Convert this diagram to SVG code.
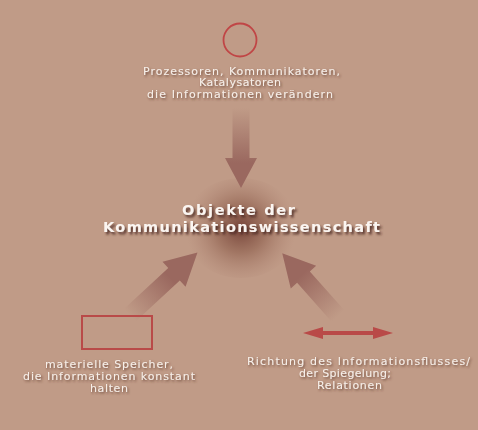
<svg xmlns="http://www.w3.org/2000/svg" width="478" height="430" viewBox="0 0 478 430">
<defs>
<style>
.t{font-family:"DejaVu Sans","Liberation Sans",sans-serif;font-size:11px;fill:#f7efe9;text-anchor:middle;filter:url(#sh)}
.tb{font-family:"DejaVu Sans","Liberation Sans",sans-serif;font-size:14.5px;font-weight:bold;fill:#fbf5f1;text-anchor:middle;filter:url(#sh2)}
.arr{fill:url(#ag)}
</style>
<filter id="sh" x="-10%" y="-50%" width="120%" height="200%">
<feDropShadow dx="1.2" dy="1.5" stdDeviation="0.8" flood-color="#5a3428" flood-opacity="0.8"/>
</filter>
<filter id="sh2" x="-10%" y="-50%" width="120%" height="200%">
<feDropShadow dx="2" dy="2.5" stdDeviation="1.2" flood-color="#4a2820" flood-opacity="0.85"/>
</filter>
<linearGradient id="ag" gradientUnits="userSpaceOnUse" x1="0" y1="0" x2="55" y2="0">
<stop offset="0" stop-color="#9a685f" stop-opacity="0"/>
<stop offset="1" stop-color="#9a685f" stop-opacity="1"/>
</linearGradient>
<radialGradient id="glow" cx="241" cy="228" r="55" gradientUnits="userSpaceOnUse">
<stop offset="0" stop-color="#6e3a31" stop-opacity="0.9"/>
<stop offset="0.45" stop-color="#82503f" stop-opacity="0.5"/>
<stop offset="1" stop-color="#a7796a" stop-opacity="0"/>
</radialGradient>
<marker id="dh" viewBox="0 0 20 12" refX="0" refY="6" markerWidth="20" markerHeight="12" markerUnits="userSpaceOnUse" orient="auto-start-reverse">
<path d="M0,0 L20,6 L0,12 Z" fill="#b94a48"/>
</marker>
</defs>
<rect width="478" height="430" fill="#c09b87"/>
<ellipse cx="241" cy="228" rx="58" ry="50" fill="url(#glow)"/>

<g id="connectors">
<polygon class="arr" transform="translate(241 108) rotate(90)" points="0,-8.5 50,-8.5 50,-16 80,0 50,16 50,8.5 0,8.5"/>
<polygon class="arr" transform="translate(130 315) rotate(-42.8)" points="0,-8.5 60,-8.5 60,-17 92,0 60,17 60,8.5 0,8.5"/>
<polygon class="arr" transform="translate(338 316) rotate(-131.6)" points="0,-8.5 52,-8.5 52,-17 84,0 52,17 52,8.5 0,8.5"/>
</g>

<g id="processors">
<circle cx="240" cy="40" r="16.5" fill="none" stroke="#c04646" stroke-width="1.8"/>
<text class="t" x="241.5" y="74.5" textLength="197" lengthAdjust="spacing">Prozessoren, Kommunikatoren,</text>
<text class="t" x="240" y="86" textLength="82" lengthAdjust="spacing">Katalysatoren</text>
<text class="t" x="240" y="97.5" textLength="186" lengthAdjust="spacing">die Informationen verändern</text>
</g>

<g id="objects">
<text class="tb" x="238.5" y="215" textLength="113" lengthAdjust="spacing">Objekte der</text>
<text class="tb" x="241.5" y="232" textLength="277" lengthAdjust="spacing">Kommunikationswissenschaft</text>
</g>

<g id="storage">
<rect x="82" y="316" width="70" height="33" fill="none" stroke="#b94a48" stroke-width="2"/>
<text class="t" x="109" y="368" textLength="128" lengthAdjust="spacing">materielle Speicher,</text>
<text class="t" x="109" y="380" textLength="172" lengthAdjust="spacing">die Informationen konstant</text>
<text class="t" x="109" y="392" textLength="38" lengthAdjust="spacing">halten</text>
</g>

<g id="relations">
<line x1="323" y1="333" x2="373" y2="333" stroke="#b94a48" stroke-width="4" marker-start="url(#dh)" marker-end="url(#dh)"/>
<text class="t" x="358.5" y="365" textLength="223" lengthAdjust="spacing">Richtung des Informationsflusses/</text>
<text class="t" x="345" y="377" textLength="92" lengthAdjust="spacing">der Spiegelung;</text>
<text class="t" x="349.5" y="389" textLength="65" lengthAdjust="spacing">Relationen</text>
</g>
</svg>
